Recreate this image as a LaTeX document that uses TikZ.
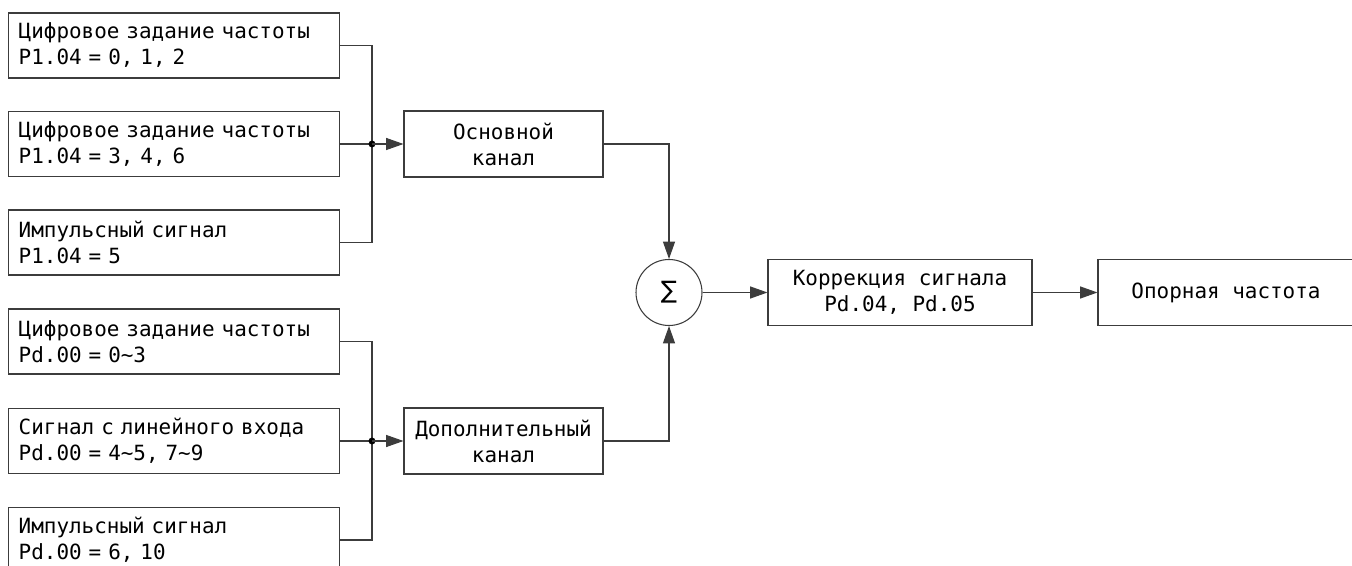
\documentclass[tikz,border=0pt]{standalone}
\usepackage{fontspec}
\setmonofont{DejaVu Sans Mono}
\newfontfamily\sumfont{DejaVu Sans}
\usetikzlibrary{arrows.meta}
\definecolor{LineGray}{HTML}{3C3C3C}
\tikzset{
  srcbox/.style={
    draw=LineGray,
    line width=0.8pt,
    anchor=west,
    align=left,
    font=\ttfamily\fontsize{15.7}{19.5}\selectfont,
    text width=233pt,
    inner xsep=7.5pt,
    minimum width=248.25pt,
    minimum height=48.75pt
  },
  chanbox/.style={
    draw=LineGray,
    line width=0.8pt,
    align=center,
    font=\ttfamily\fontsize{15.7}{19.5}\selectfont,
    minimum width=149.25pt,
    minimum height=49.5pt
  },
  sumnode/.style={
    draw=LineGray,
    circle,
    line width=0.8pt,
    font=\sumfont\fontsize{18}{18}\selectfont,
    minimum size=49.5pt,
    inner sep=0pt
  },
  wire/.style={line width=0.8pt, draw=LineGray},
  arrow/.style={wire, -{Triangle[length=13pt,width=9pt]}}
}

\begin{document}
\begin{tikzpicture}[x=0.75pt, y=-0.75pt]
\useasboundingbox (0,0) rectangle (1352,566);
% main channel sources
\node[srcbox] (digA) at (8,45.5) {Цифровое задание частоты\\P1.04 = 0, 1, 2};
\node[srcbox] (digB) at (8,144) {Цифровое задание частоты\\P1.04 = 3, 4, 6};
\node[srcbox] (pulseA) at (8,242.5) {Импульсный сигнал\\P1.04 = 5};
% auxiliary channel sources
\node[srcbox] (digC) at (8,341.5) {Цифровое задание частоты\\Pd.00 = 0\textasciitilde3};
\node[srcbox] (lineIn) at (8,441) {Сигнал с линейного входа\\Pd.00 = 4\textasciitilde5, 7\textasciitilde9};
\node[srcbox] (pulseB) at (8,540) {Импульсный сигнал\\Pd.00 = 6, 10};
% channels, sum and output
\node[chanbox] (mainch) at (503.5,144) {Основной\\канал};
\node[chanbox] (auxch) at (503.5,441) {Дополнительный\\канал};
\node[sumnode] (sum) at (669,292.5) {∑};
\node[chanbox, minimum width=198pt] (corr) at (900,292.5) {Коррекция сигнала\\Pd.04, Pd.05};
\node[chanbox, minimum width=192pt] (ref) at (1226,292.5) {Опорная частота};
\coordinate (jmain) at (372,144);
\coordinate (jaux) at (372,441);
% main bus
\draw[wire] (digA.east) -| (jmain) |- (pulseA.east);
\draw[wire] (digB.east) -- (jmain);
\fill[black] (jmain) circle (2.6pt);
\draw[arrow] (jmain) -- (mainch.west);
% auxiliary bus
\draw[wire] (digC.east) -| (jaux) |- (pulseB.east);
\draw[wire] (lineIn.east) -- (jaux);
\fill[black] (jaux) circle (2.6pt);
\draw[arrow] (jaux) -- (auxch.west);
% into the sum
\draw[arrow] (mainch.east) -| (sum.north);
\draw[arrow] (auxch.east) -| (sum.south);
% output chain
\draw[arrow] (sum.east) -- (corr.west);
\draw[arrow] (corr.east) -- (ref.west);
\end{tikzpicture}
\end{document}
